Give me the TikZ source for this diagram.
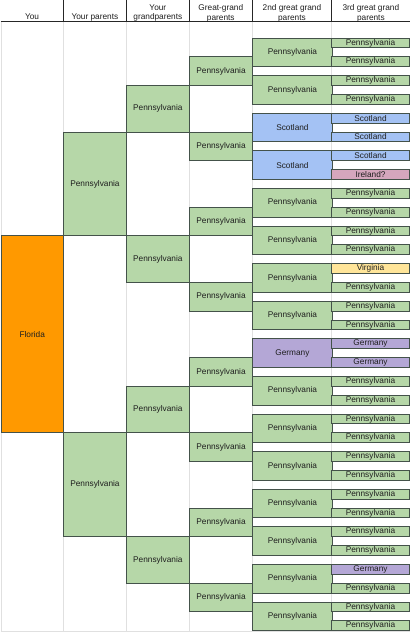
\documentclass[tikz,border=0pt]{standalone}
\usepackage{fontspec}
\setmainfont{Liberation Sans}
\usetikzlibrary{positioning, calc}
\usepackage{xcolor}
\definecolor{SheetGreen}{HTML}{B6D7A8}
\definecolor{SheetOrange}{HTML}{FF9900}
\definecolor{SheetBlue}{HTML}{A4C2F4}
\definecolor{SheetPink}{HTML}{D5A6BD}
\definecolor{SheetPurple}{HTML}{B4A7D6}
\definecolor{SheetYellow}{HTML}{FFE599}
\definecolor{GridLine}{HTML}{E0E0E0}
\definecolor{CellEdge}{HTML}{44524A}

\begin{document}
\begin{tikzpicture}[
    x=1pt, y=-1pt,
    every node/.style={font=\fontsize{8.3}{9.6}\selectfont, inner sep=0pt, text=black!88},
    cell/.style={draw=CellEdge, line width=0.9pt, align=center},
    youcell/.style={cell, minimum width=62.5, minimum height=197.2},
    parentcell/.style={cell, minimum width=63, minimum height=103.9},
    grandcell/.style={cell, minimum width=63, minimum height=46.66},
    greatcell/.style={cell, minimum width=63.5, minimum height=28.62},
    secondcell/.style={cell, minimum width=79.5, minimum height=28.62},
    thirdcell/.style={cell, minimum width=77.8, minimum height=9.8},
    hdr/.style={align=center, anchor=north},
    grid/.style={GridLine, line width=0.6pt},
    hdrline/.style={black!85, line width=0.9pt}
]

% =============================================
% SHEET BACKGROUND AND GRID
% =============================================
\fill[white] (0,0) rectangle (410,632);
\foreach \gx in {63,126,189,252,331.5}
    \draw[grid] (\gx,21.5) -- (\gx,632);
\draw[grid] (0.3,21.5) -- (0.3,632);
\draw[grid] (0,631.7) -- (410,631.7);

% =============================================
% HEADER ROW
% =============================================
\foreach \gx in {63,126,189,252,331.5}
    \draw[hdrline] (\gx,0) -- (\gx,21.5);
\draw[hdrline, line width=1.1pt] (0,21.5) -- (410,21.5);

\node[hdr] (hdr-you) at (31.5,13.4) {You};
\node[hdr] (hdr-parents) at (94.5,13.4) {Your parents};
\node[hdr] (hdr-grand) at (157.5,4) {Your\\grandparents};
\node[hdr] (hdr-great) at (220.5,4) {Great-grand\\parents};
\node[hdr] (hdr-second) at (291.75,4) {2nd great grand\\parents};
\node[hdr] (hdr-third) at (370.75,4) {3rd great grand\\parents};

% =============================================
% YOU AND PARENTS
% =============================================
\node[youcell, fill=SheetOrange] (you) at (31.75,334.3) {Florida};

\foreach \n in {0,1} {
    \pgfmathsetmacro\ymid{37.7+18.82*(16*\n+5)+51.95}
    \node[parentcell, fill=SheetGreen] (parent-\n) at (94.5,\ymid) {Pennsylvania};
}

% =============================================
% GRANDPARENTS AND GREAT-GRANDPARENTS
% =============================================
\foreach \m in {0,...,3} {
    \pgfmathsetmacro\ymid{37.7+18.82*(8*\m+2)+33.13}
    \node[grandcell, fill=SheetGreen] (grand-\m) at (157.5,\ymid) {Pennsylvania};
}

\foreach \k in {0,...,7} {
    \pgfmathsetmacro\ymid{37.7+18.82*(4*\k+1)+14.31}
    \node[greatcell, fill=SheetGreen] (great-\k) at (220.75,\ymid) {Pennsylvania};
}

% =============================================
% 2ND GREAT GRANDPARENTS
% =============================================
\foreach \place/\shade [count=\j from 0] in {
    Pennsylvania/SheetGreen, Pennsylvania/SheetGreen,
    Scotland/SheetBlue, Scotland/SheetBlue,
    Pennsylvania/SheetGreen, Pennsylvania/SheetGreen,
    Pennsylvania/SheetGreen, Pennsylvania/SheetGreen,
    Germany/SheetPurple, Pennsylvania/SheetGreen,
    Pennsylvania/SheetGreen, Pennsylvania/SheetGreen,
    Pennsylvania/SheetGreen, Pennsylvania/SheetGreen,
    Pennsylvania/SheetGreen, Pennsylvania/SheetGreen} {
    \pgfmathsetmacro\ymid{37.7+18.82*(2*\j)+14.31}
    \node[secondcell, fill=\shade] (second-\j) at (292.25,\ymid) {\place};
}

% =============================================
% 3RD GREAT GRANDPARENTS
% =============================================
\foreach \place/\shade [count=\i from 0] in {
    Pennsylvania/SheetGreen, Pennsylvania/SheetGreen,
    Pennsylvania/SheetGreen, Pennsylvania/SheetGreen,
    Scotland/SheetBlue, Scotland/SheetBlue,
    Scotland/SheetBlue, Ireland?/SheetPink,
    Pennsylvania/SheetGreen, Pennsylvania/SheetGreen,
    Pennsylvania/SheetGreen, Pennsylvania/SheetGreen,
    Virginia/SheetYellow, Pennsylvania/SheetGreen,
    Pennsylvania/SheetGreen, Pennsylvania/SheetGreen,
    Germany/SheetPurple, Germany/SheetPurple,
    Pennsylvania/SheetGreen, Pennsylvania/SheetGreen,
    Pennsylvania/SheetGreen, Pennsylvania/SheetGreen,
    Pennsylvania/SheetGreen, Pennsylvania/SheetGreen,
    Pennsylvania/SheetGreen, Pennsylvania/SheetGreen,
    Pennsylvania/SheetGreen, Pennsylvania/SheetGreen,
    Germany/SheetPurple, Pennsylvania/SheetGreen,
    Pennsylvania/SheetGreen, Pennsylvania/SheetGreen} {
    \pgfmathsetmacro\ymid{37.7+18.82*\i+4.9}
    \node[thirdcell, fill=\shade] (third-\i) at (370.4,\ymid) {\place};
}

\end{tikzpicture}
\end{document}
